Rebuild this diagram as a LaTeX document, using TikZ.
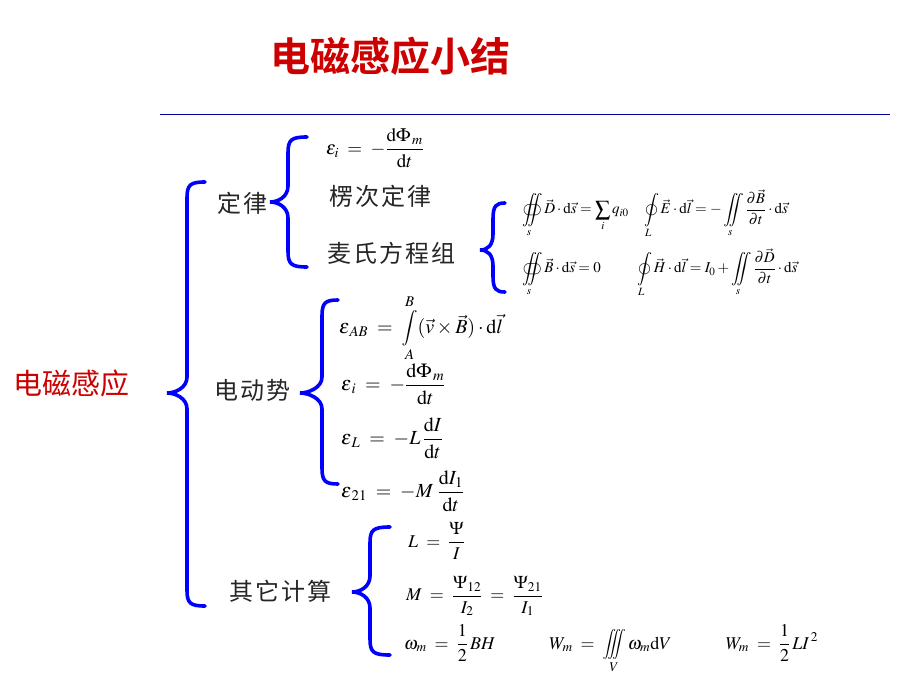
\documentclass[tikz,border=0pt]{standalone}
\usepackage{amsmath}
\usepackage{mathptmx}
\usepackage{esint}
\usepackage{graphicx}
\usepackage{fontspec}
\newfontfamily\cjk{Noto Sans CJK SC}
\newfontfamily\cjkb{Noto Sans CJK SC Bold}
\definecolor{titlered}{RGB}{204,0,0}
\definecolor{braceblue}{RGB}{0,0,255}
\definecolor{linenavy}{RGB}{0,0,150}
\newcommand\dd{\mathrm{d}}
\newcommand\eqs{\;=\;}
\newcommand\mint{\mathop{\vcenter{\hbox{\scalebox{0.8}{$\displaystyle\int$}}}}\limits}
\newcommand\miiint{\mathop{\vcenter{\hbox{\scalebox{0.75}{$\displaystyle\iiint$}}}}\limits}
\newcommand\DrawBrace[6]{% #1 xv, #2 xtip, #3 xend, #4 ytop, #5 ytip, #6 ybot
  \draw[bracestyle] (#3,#4) .. controls ({#1+3},#4) and (#1,{#4+3}) .. (#1,{#4+16})
    -- (#1,{#5-16}) .. controls (#1,{#5-5}) and ({#2+8},#5) .. (#2,#5)
    .. controls ({#2+8},#5) and (#1,{#5+5}) .. (#1,{#5+16})
    -- (#1,{#6-16}) .. controls (#1,{#6-3}) and ({#1+3},#6) .. (#3,#6);}
\begin{document}
\begin{tikzpicture}[x=1pt,y=-1pt,
  bracestyle/.style={draw=braceblue,line width=3.6pt,line cap=round},
  cntext/.style={font=\cjk\fontsize{24}{28}\selectfont,text=black!85,inner sep=0pt},
  eqbig/.style={font=\fontsize{20}{24}\selectfont,inner sep=0pt,anchor=west},
  eqmid/.style={font=\fontsize{18}{22}\selectfont,inner sep=0pt,anchor=west},
  eqsmall/.style={font=\fontsize{15}{18}\selectfont,inner sep=0pt,anchor=west}]
\useasboundingbox (0,0) rectangle (920,690);
\fill[white] (0,0) rectangle (920,690);
% title and rule
\node[font=\cjkb\fontsize{40}{44}\selectfont,text=titlered,inner sep=0pt] (title) at (390,56) {电磁感应小结};
\draw[linenavy,line width=1pt] (160,115) -- (890,115);
% root
\node[font=\cjk\fontsize{29}{33}\selectfont,text=titlered,inner sep=0pt] (root) at (71,383) {电磁感应};
\DrawBrace{187}{167}{205}{182}{393}{606}
% branch 1
\node[cntext,anchor=west] (law) at (217,203) {定\hspace{2pt}律};
\DrawBrace{288}{270}{307}{137}{202}{267}
\node[eqmid,font=\fontsize{19}{22}\selectfont] (faraday) at (326,148) {$\displaystyle \varepsilon_i\eqs-\frac{\dd\Phi_{\,m}}{\dd t}$};
\node[cntext,anchor=west] (lenz) at (329,196) {楞\hspace{2pt}次\hspace{2pt}定\hspace{2pt}律};
\node[cntext,anchor=west] (maxwell) at (327,253) {麦\hspace{2pt}氏\hspace{2pt}方\hspace{2pt}程\hspace{2pt}组};
\DrawBrace{493}{480}{505}{203}{250}{292}
\node[eqsmall] (mx1) at (522,214) {$\displaystyle \oiint\limits_s \vec D\cdot\dd\vec s=\sum_i q_{i0}\ \ \ \oint\limits_L \vec E\cdot\dd\vec l=-\iint\limits_s\frac{\partial \vec B}{\partial t}\cdot\dd\vec s$};
\node[eqsmall] (mx2) at (522,273) {$\displaystyle \oiint\limits_s \vec B\cdot\dd\vec s=0\qquad\ \oint\limits_L \vec H\cdot\dd\vec l=I_0+\iint\limits_s\frac{\partial \vec D}{\partial t}\cdot\dd\vec s$};
% branch 2
\node[cntext,anchor=west] (emf) at (214,390) {电\hspace{2pt}动\hspace{2pt}势};
\DrawBrace{322}{300}{338}{300}{393}{484}
\node[eqbig] (eab) at (339,328) {$\displaystyle \varepsilon_{\,AB}\eqs\mint_A^B(\vec v\times\vec B)\cdot\dd\vec l$};
\node[eqbig] (ei) at (341,384) {$\displaystyle \varepsilon_{\,i}\eqs-\frac{\dd\Phi_{\,m}}{\dd t}$};
\node[eqbig] (el) at (341,438) {$\displaystyle \varepsilon_{\,L}\eqs-L\,\frac{\dd I}{\dd t}$};
\node[eqbig] (e21) at (341,491) {$\displaystyle \varepsilon_{\,21}\eqs-M\;\frac{\dd I_1}{\dd t}$};
% branch 3
\node[cntext,anchor=west] (other) at (229,591) {其\hspace{2pt}它\hspace{2pt}计\hspace{2pt}算};
\DrawBrace{370}{352}{390}{527}{592}{655}
\node[eqmid] (lself) at (408,541) {$\displaystyle L\eqs\frac{\Psi}{I}$};
\node[eqmid] (mut) at (406,596) {$\displaystyle M\eqs\frac{\Psi_{12}}{I_2}\eqs\frac{\Psi_{21}}{I_1}$};
\node[eqmid] (energy) at (404,649) {$\displaystyle \omega_m\eqs\frac{1}{2}\,BH\qquad\quad W_m\eqs\miiint_V\omega_m\dd V\qquad\quad W_m\eqs\frac{1}{2}\,LI^{\,2}$};
\end{tikzpicture}
\end{document}
